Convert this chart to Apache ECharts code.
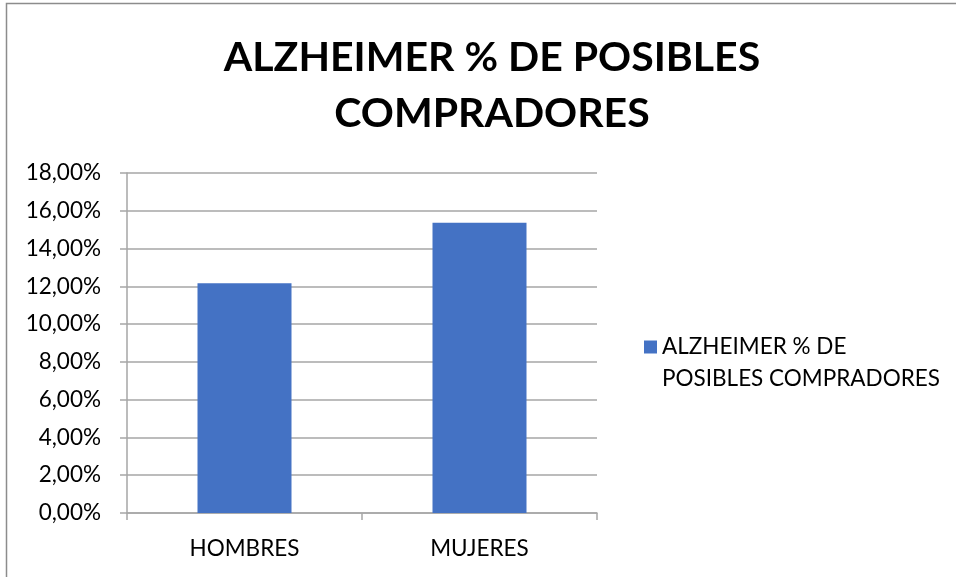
<!DOCTYPE html>
<html>
<head>
<meta charset="utf-8">
<script src="https://cdn.jsdelivr.net/npm/echarts@6/dist/echarts.min.js"></script>
<style>
  html, body { margin: 0; padding: 0; background: #fff; }
  #main { width: 956px; height: 577px; }
</style>
</head>
<body>
<div id="main"></div>
<script>
// datos del grafico
var categories = ['HOMBRES', 'MUJERES'];
var values = [12.16, 15.36];
var seriesName = 'ALZHEIMER % DE POSIBLES COMPRADORES';
var titleText = 'ALZHEIMER % DE POSIBLES\nCOMPRADORES';

var font = 'Lato, "Open Sans", sans-serif';
var chart = echarts.init(document.getElementById('main'));

chart.setOption({
  backgroundColor: '#fff',
  animation: false,
  textStyle: { fontFamily: font },
  graphic: [{
    type: 'rect',
    shape: { x: 6.5, y: 3.5, width: 1000, height: 700 },
    style: { fill: 'none', stroke: '#8c8c8c', lineWidth: 1.5 },
    silent: true
  }],
  title: {
    text: titleText,
    left: 487,
    textAlign: 'center',
    top: 25,
    textStyle: {
      fontFamily: font,
      fontSize: 41,
      fontWeight: 'bold',
      lineHeight: 56,
      color: '#000'
    }
  },
  legend: {
    data: [seriesName],
    orient: 'vertical',
    left: 639,
    top: 294,
    itemWidth: 13,
    itemHeight: 13,
    itemGap: 0,
    icon: 'rect',
    // linea vacia arriba para que el icono quede junto a la primera linea
    formatter: function () { return '\u00a0\nALZHEIMER % DE\nPOSIBLES COMPRADORES'; },
    textStyle: {
      fontFamily: font,
      fontSize: 22.5,
      lineHeight: 32,
      color: '#000'
    }
  },
  grid: {
    left: 127,
    right: 359,
    top: 173,
    bottom: 64
  },
  xAxis: {
    type: 'category',
    data: categories,
    axisLine: { lineStyle: { color: '#a6a6a6', width: 1.5 } },
    axisTick: { show: true, length: 7, lineStyle: { color: '#a6a6a6', width: 1.5 } },
    axisLabel: { color: '#000', fontSize: 22.5, margin: 24, fontFamily: font }
  },
  yAxis: {
    type: 'value',
    min: 0,
    max: 18,
    interval: 2,
    axisLine: { show: true, lineStyle: { color: '#a6a6a6', width: 1.5 } },
    axisTick: { show: true, length: 7, lineStyle: { color: '#a6a6a6', width: 1.5 } },
    splitLine: { show: true, lineStyle: { color: '#a6a6a6', width: 1.5 } },
    axisLabel: {
      color: '#000',
      fontSize: 22.5,
      margin: 26,
      fontFamily: font,
      formatter: function (v) { return v.toFixed(2).replace('.', ',') + '%'; }
    }
  },
  series: [{
    name: seriesName,
    type: 'bar',
    data: values,
    barWidth: '40%',
    itemStyle: { color: '#4472c4' }
  }]
});
</script>
</body>
</html>
